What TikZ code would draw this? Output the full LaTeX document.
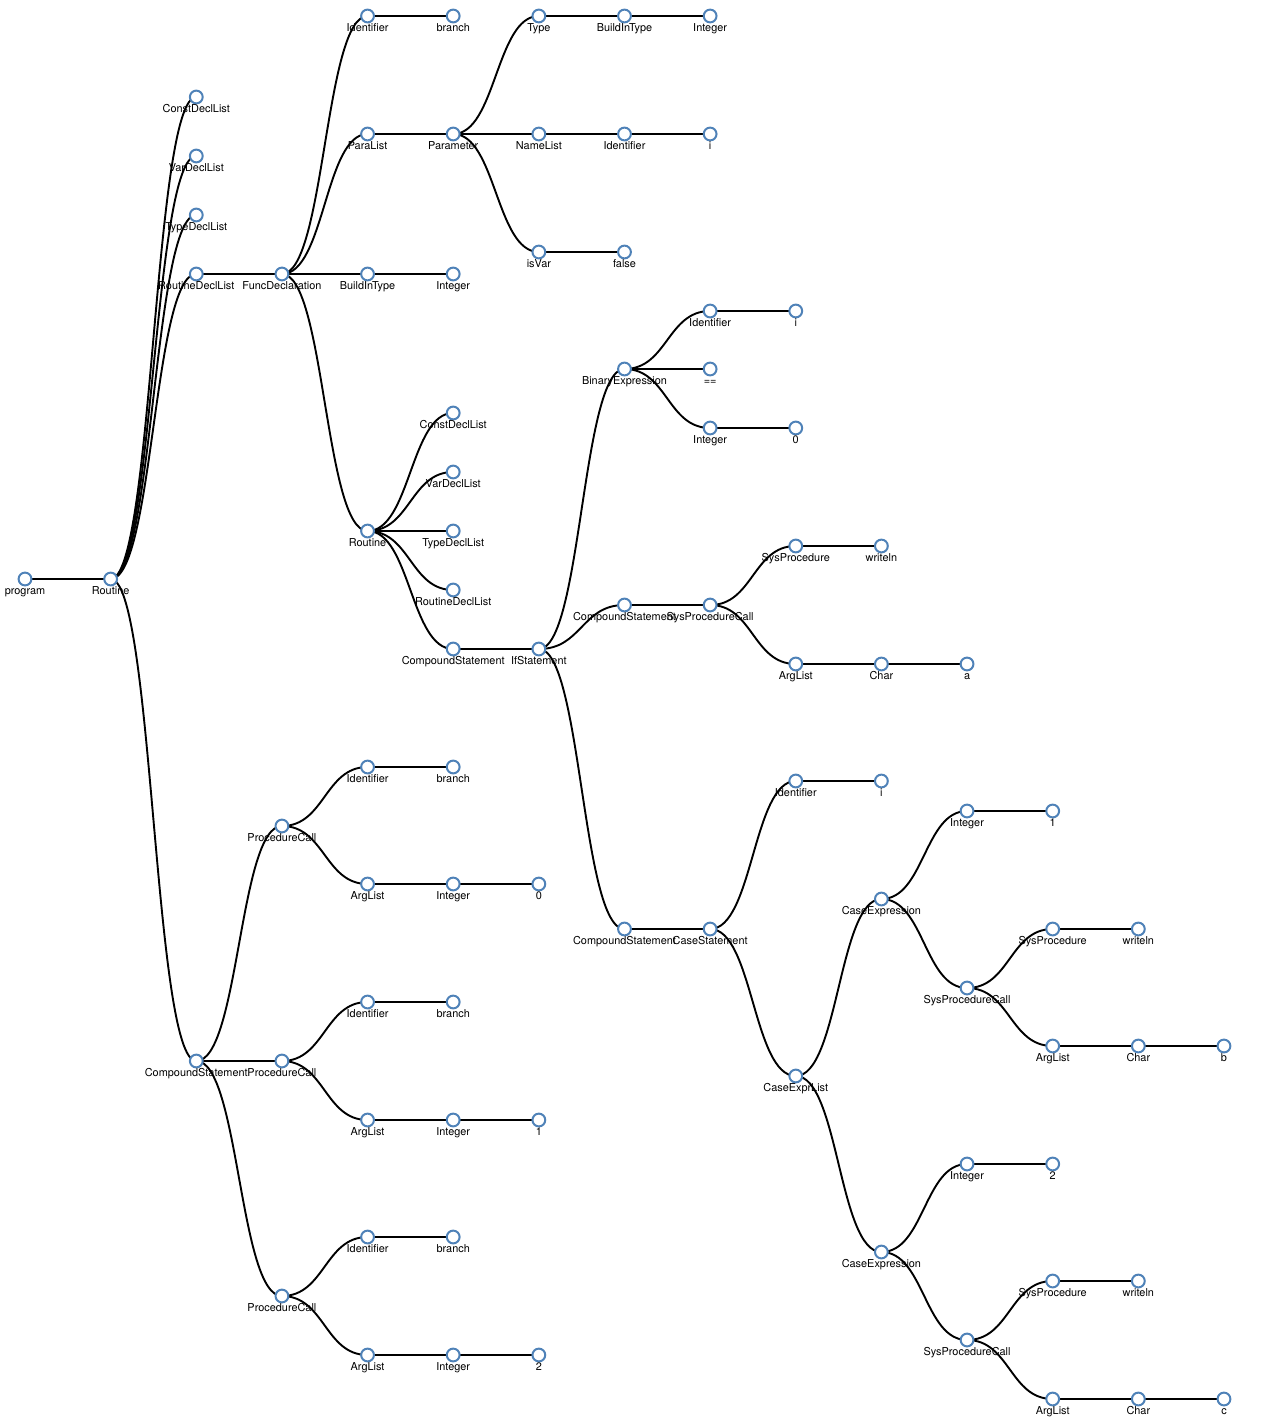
\documentclass[tikz,border=0pt]{standalone}
\usepackage{fontspec}
\setmainfont{TeX Gyre Heros}
\usepackage{tikz}
\usetikzlibrary{calc,backgrounds}
\definecolor{nodeblue}{HTML}{4F82B8}
\tikzset{
  ast node/.style={circle,draw=nodeblue,fill=white,line width=2pt,minimum size=12.8pt,inner sep=0pt},
  ast label/.style={anchor=base,inner sep=0pt,font=\fontsize{10.9}{13}\selectfont},
  ast link/.style={draw,black,line width=1.9pt},
}

\begin{document}
\begin{tikzpicture}[x=1pt,y=-1pt]
\useasboundingbox (0,0) rectangle (1280,1426);
\foreach \n/\c/\y/\t in {
  prog/0/579/program, rt/1/579/Routine,
  cdl/2/97/ConstDeclList, vdl/2/156/VarDeclList, tdl/2/215/TypeDeclList, rdl/2/274/RoutineDeclList,
  fd/3/274/FuncDeclaration,
  fid/4/16/Identifier, fidv/5/16/branch,
  pl/4/134/ParaList, par/5/134/Parameter,
  ty/6/16/Type, tyb/7/16/BuildInType, tyi/8/16/Integer,
  nl/6/134/NameList, nli/7/134/Identifier, nlv/8/134/i,
  iv/6/252/isVar, ivv/7/252/false,
  fb/4/274/BuildInType, fbi/5/274/Integer,
  frt/4/531/Routine,
  fcdl/5/413/ConstDeclList, fvdl/5/472/VarDeclList, ftdl/5/531/TypeDeclList, frdl/5/590/RoutineDeclList,
  fcs/5/649/CompoundStatement, ifs/6/649/IfStatement,
  be/7/369/BinaryExpression,
  bei/8/311/Identifier, beiv/9/311/i, beop/8/369/==, ben/8/428/Integer, benv/9/428/0,
  tcs/7/605/CompoundStatement, tspc/8/605/SysProcedureCall,
  tsp/9/546/SysProcedure, tspv/10/546/writeln,
  tal/9/664/ArgList, tch/10/664/Char, tchv/11/664/a,
  ecs/7/929/CompoundStatement, cst/8/929/CaseStatement,
  csi/9/781/Identifier, csiv/10/781/i,
  cel/9/1076/CaseExprList,
  ce1/10/899/CaseExpression, ce1n/11/811/Integer, ce1v/12/811/1,
  ce1c/11/988/SysProcedureCall, ce1p/12/929/SysProcedure, ce1pv/13/929/writeln,
  ce1a/12/1046/ArgList, ce1ch/13/1046/Char, ce1chv/14/1046/b,
  ce2/10/1252/CaseExpression, ce2n/11/1164/Integer, ce2v/12/1164/2,
  ce2c/11/1340/SysProcedureCall, ce2p/12/1281/SysProcedure, ce2pv/13/1281/writeln,
  ce2a/12/1399/ArgList, ce2ch/13/1399/Char, ce2chv/14/1399/c,
  mcs/2/1061/CompoundStatement,
  pc1/3/826/ProcedureCall, pc1i/4/767/Identifier, pc1iv/5/767/branch,
  pc1a/4/884/ArgList, pc1n/5/884/Integer, pc1v/6/884/0,
  pc2/3/1061/ProcedureCall, pc2i/4/1002/Identifier, pc2iv/5/1002/branch,
  pc2a/4/1120/ArgList, pc2n/5/1120/Integer, pc2v/6/1120/1,
  pc3/3/1296/ProcedureCall, pc3i/4/1237/Identifier, pc3iv/5/1237/branch,
  pc3a/4/1355/ArgList, pc3n/5/1355/Integer, pc3v/6/1355/2}
{
  \node[ast node] (\n) at ({25+85.64*\c},\y) {};
  \node[ast label] (\n-l) at ([yshift=-15.3pt]\n.center) {\t};
}
% links, drawn under the nodes
\begin{pgfonlayer}{background}
\foreach \a/\b in {prog/rt, rt/cdl, rt/vdl, rt/tdl, rt/rdl, rt/mcs,
  rdl/fd, fd/fid, fid/fidv, fd/pl, pl/par, par/ty, ty/tyb, tyb/tyi,
  par/nl, nl/nli, nli/nlv, par/iv, iv/ivv, fd/fb, fb/fbi, fd/frt,
  frt/fcdl, frt/fvdl, frt/ftdl, frt/frdl, frt/fcs, fcs/ifs,
  ifs/be, be/bei, bei/beiv, be/beop, be/ben, ben/benv,
  ifs/tcs, tcs/tspc, tspc/tsp, tsp/tspv, tspc/tal, tal/tch, tch/tchv,
  ifs/ecs, ecs/cst, cst/csi, csi/csiv, cst/cel,
  cel/ce1, ce1/ce1n, ce1n/ce1v, ce1/ce1c, ce1c/ce1p, ce1p/ce1pv, ce1c/ce1a, ce1a/ce1ch, ce1ch/ce1chv,
  cel/ce2, ce2/ce2n, ce2n/ce2v, ce2/ce2c, ce2c/ce2p, ce2p/ce2pv, ce2c/ce2a, ce2a/ce2ch, ce2ch/ce2chv,
  mcs/pc1, pc1/pc1i, pc1i/pc1iv, pc1/pc1a, pc1a/pc1n, pc1n/pc1v,
  mcs/pc2, pc2/pc2i, pc2i/pc2iv, pc2/pc2a, pc2a/pc2n, pc2n/pc2v,
  mcs/pc3, pc3/pc3i, pc3i/pc3iv, pc3/pc3a, pc3a/pc3n, pc3n/pc3v}
{
  \draw[ast link] let \p1=(\a.center), \p2=(\b.center) in
    (\p1) .. controls ({(\x1+\x2)/2},\y1) and ({(\x1+\x2)/2},\y2) .. (\p2);
}
\end{pgfonlayer}
\end{tikzpicture}
\end{document}
